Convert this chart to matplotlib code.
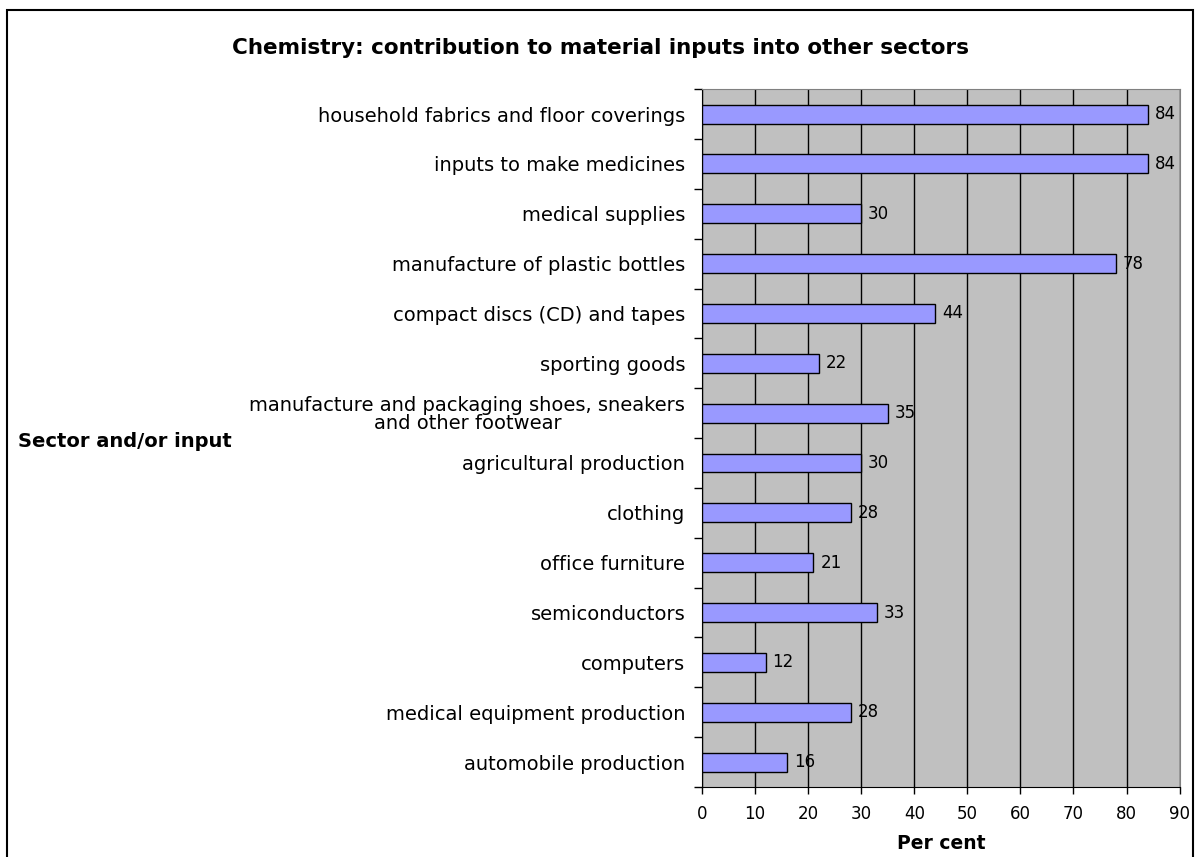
import numpy as np
import matplotlib.pyplot as plt
from matplotlib.patches import Rectangle

plt.rcParams['font.family'] = ['DejaVu Sans']

# Data (top to bottom as in the chart)
categories = [
    'household fabrics and floor coverings',
    'inputs to make medicines',
    'medical supplies',
    'manufacture of plastic bottles',
    'compact discs (CD) and tapes',
    'sporting goods',
    'manufacture and packaging shoes, sneakers\nand other footwear',
    'agricultural production',
    'clothing',
    'office furniture',
    'semiconductors',
    'computers',
    'medical equipment production',
    'automobile production',
]
values = [84, 84, 30, 78, 44, 22, 35, 30, 28, 21, 33, 12, 28, 16]

fig = plt.figure(figsize=(12, 8.57), dpi=100)
ax = fig.add_axes([0.585, 0.0817, 0.983 - 0.585, 0.896 - 0.0817])

n = len(categories)
y = np.arange(n)
ax.barh(y, values, height=0.38, color='#9999FF', edgecolor='black', linewidth=1, zorder=3)

for yi, v in zip(y, values):
    ax.text(v + 1.3, yi, str(v), va='center', ha='left', fontsize=12, zorder=4)

ax.set_facecolor('#C0C0C0')
ax.set_xlim(0, 90)
ax.set_ylim(n - 0.5, -0.5)
ax.set_xticks(np.arange(0, 91, 10))
ax.xaxis.grid(True, color='black', linewidth=1, zorder=1)
ax.set_axisbelow(True)

# category labels at bar centres, ticks at category boundaries
ax.set_yticks(np.arange(n + 1) - 0.5)
ax.set_yticklabels([])
ax.set_yticks(y, minor=True)
ax.set_yticklabels(categories, minor=True, fontsize=14, ha='right',
                   linespacing=0.95, multialignment='center')
ax.tick_params(axis='y', which='minor', length=0, pad=12)
ax.tick_params(axis='y', which='major', direction='out', length=6, width=1)
ax.tick_params(axis='x', direction='out', length=5, width=1, labelsize=12, pad=8)

for s in ['top', 'right']:
    ax.spines[s].set_color('#808080')
for s in ['left', 'bottom']:
    ax.spines[s].set_color('black')

ax.set_xlabel('Per cent', fontsize=13.5, fontweight='bold', labelpad=8)
fig.text(0.015, 0.485, 'Sector and/or input', fontsize=14, fontweight='bold', va='center', ha='left')
fig.text(0.5, 0.944, 'Chemistry: contribution to material inputs into other sectors',
         fontsize=15.5, fontweight='bold', ha='center', va='center')

# outer frame of the chart
fig.patches.append(Rectangle((0.006, -0.01), 0.988, 0.998, transform=fig.transFigure,
                             fill=False, edgecolor='black', linewidth=1.5))

fig.savefig('out.png', dpi=100)
